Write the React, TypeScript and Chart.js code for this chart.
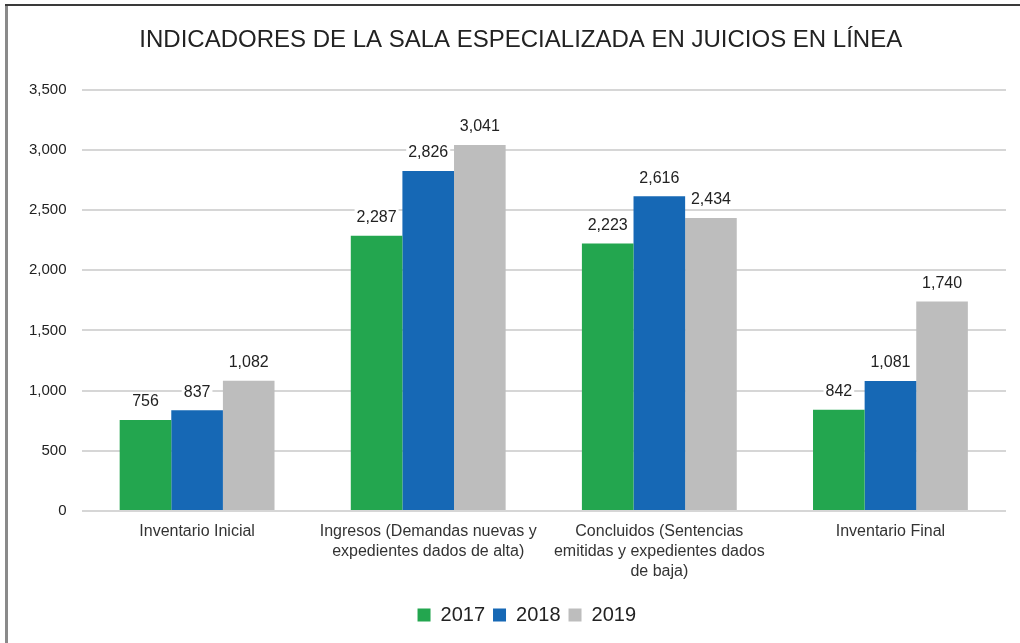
import React, { useEffect, useRef } from "react";
import { Chart, registerables } from "chart.js";

Chart.register(...registerables);

const TITLE = "INDICADORES DE LA SALA ESPECIALIZADA EN JUICIOS EN LÍNEA";
const categories: (string | string[])[] = [
  "Inventario Inicial",
  ["Ingresos (Demandas nuevas y", "expedientes dados de alta)"],
  ["Concluidos (Sentencias", "emitidas y expedientes dados", "de baja)"],
  "Inventario Final",
];
const seriesNames = ["2017", "2018", "2019"];
const values2017 = [756, 2287, 2223, 842];
const values2018 = [837, 2826, 2616, 1081];
const values2019 = [1082, 3041, 2434, 1740];
const colors = ["#23a64f", "#1668b5", "#bdbdbd"];
const yTicks = [0, 500, 1000, 1500, 2000, 2500, 3000, 3500];

const FONT = "'Liberation Sans', Arial, sans-serif";

const fmt = (v: number) => v.toLocaleString("en-US");

const dataLabelPlugin = {
  id: "dataLabels",
  afterDatasetsDraw(chart: any) {
    const ctx = chart.ctx;
    ctx.save();
    ctx.font = `16px ${FONT}`;
    ctx.textAlign = "center";
    ctx.textBaseline = "middle";
    chart.data.datasets.forEach((ds: any, i: number) => {
      const meta = chart.getDatasetMeta(i);
      meta.data.forEach((bar: any, j: number) => {
        const text = fmt(ds.data[j]);
        const w = ctx.measureText(text).width;
        const cy = bar.y - 18;
        ctx.fillStyle = "#ffffff";
        ctx.fillRect(bar.x - w / 2 - 2, cy - 9, w + 4, 18);
        ctx.fillStyle = "#222222";
        ctx.fillText(text, bar.x, cy);
      });
    });
    ctx.restore();
  },
};

const boxShiftPlugin = {
  id: "boxShift",
  afterLayout(chart: any) {
    const lg = chart.legend;
    if (lg) {
      lg.left = chart.chartArea.left - 34;
      lg.right = chart.chartArea.right;
    }
    const tb = chart.titleBlock;
    if (tb) {
      tb.left = chart.chartArea.left - 60;
      tb.right = chart.chartArea.right + 14;
    }
  },
};

export default function App() {
  const ref = useRef<HTMLCanvasElement | null>(null);
  useEffect(() => {
    if (!ref.current) return;
    const allValues = [values2017, values2018, values2019];
    const chart = new Chart(ref.current, {
      type: "bar",
      data: {
        labels: categories,
        datasets: seriesNames.map((name, i) => ({
          label: name,
          data: allValues[i],
          backgroundColor: colors[i],
          borderWidth: 0,
          barPercentage: 1,
          categoryPercentage: 0.67,
        })),
      },
      options: {
        responsive: false,
        animation: false,
        devicePixelRatio: 1,
        layout: { padding: { left: 14, right: 14, top: 26, bottom: 8 } },
        plugins: {
          title: {
            display: true,
            text: TITLE,
            color: "#222222",
            font: { family: FONT, size: 24, weight: "normal" },
            padding: { top: 0, bottom: 35 },
          },
          legend: {
            position: "bottom",
            labels: {
              color: "#222222",
              font: { family: FONT, size: 20 },
              boxWidth: 13,
              boxHeight: 13,
              padding: 8,
            },
          },
          tooltip: { enabled: false },
        },
        scales: {
          x: {
            grid: { display: false },
            border: { display: false },
            ticks: {
              color: "#333333",
              font: { family: FONT, size: 16, lineHeight: 1.25 },
              maxRotation: 0,
              autoSkip: false,
              padding: 3,
            },
            afterFit: (axis: any) => {
              axis.height += 12;
            },
          },
          y: {
            min: 0,
            max: 3500,
            afterBuildTicks: (axis: any) => {
              axis.ticks = yTicks.map((v) => ({ value: v }));
            },
            grid: { color: "#d6d6d6", lineWidth: 2, drawTicks: false },
            border: { display: false },
            ticks: {
              color: "#222222",
              font: { family: FONT, size: 15 },
              padding: 15,
              callback: (v: any) => fmt(Number(v)),
            },
          },
        },
      },
      plugins: [dataLabelPlugin, boxShiftPlugin],
    } as any);
    return () => chart.destroy();
  }, []);

  return (
    <div style={{ position: "fixed", left: 0, top: 0, width: 1020, height: 643, background: "#ffffff" }}>
      <canvas ref={ref} width={1020} height={643} style={{ position: "absolute", left: 0, top: 0 }} />
      <div style={{ position: "absolute", left: 5, top: 4, width: 3, height: 639, background: "#8a8a8a" }} />
      <div style={{ position: "absolute", left: 5, top: 4, width: 1015, height: 2, background: "#3a3a3a" }} />
    </div>
  );
}
